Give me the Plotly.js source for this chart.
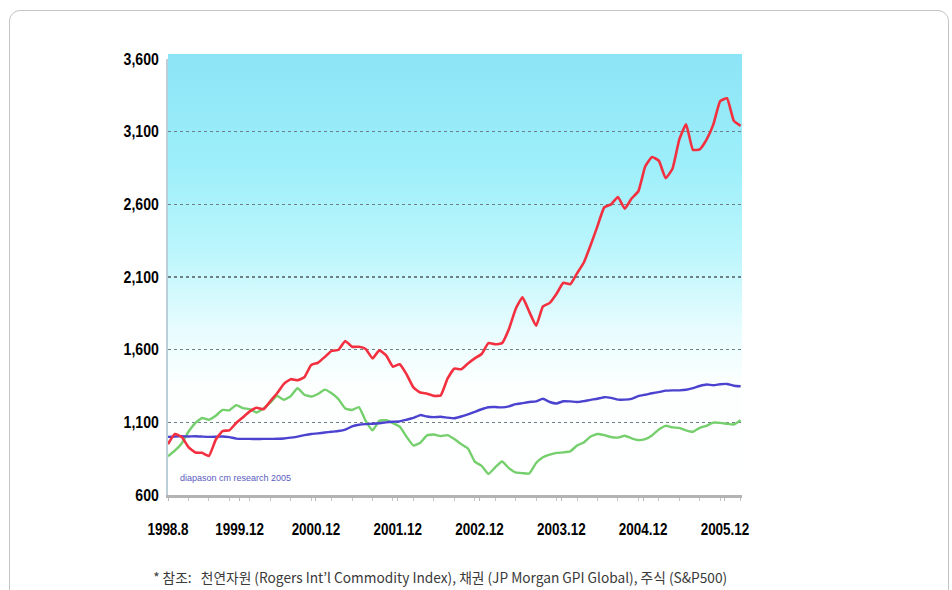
<!DOCTYPE html>
<html>
<head>
<meta charset="utf-8">
<script src="https://cdn.plot.ly/plotly-3.0.1.min.js"></script>
<style>
  html, body { margin: 0; padding: 0; background: #ffffff; }
  #wrap { position: relative; width: 952px; height: 590px; overflow: hidden; }
  #chart { position: absolute; left: 0; top: 0; width: 952px; height: 590px; }
  #frame { position: absolute; left: 9px; top: 10px; width: 940px; height: 620px;
           border: 1px solid #c4c4c4; border-radius: 11px; pointer-events: none; box-sizing: border-box; }
</style>
</head>
<body>
<div id="wrap">
  <div id="chart"></div>
  <div id="frame"></div>
</div>
<script>
// ---- data (monthly readings) ----
const tickLabels = ['1998.8', '1999.12', '2000.12', '2001.12', '2002.12', '2003.12', '2004.12', '2005.12'];
const yTickValues = [600, 1100, 1600, 2100, 2600, 3100, 3600];

// Commodities (Rogers Int'l Commodity Index) - red
const commodity = [950, 1020, 1000, 930, 893, 890, 868, 980, 1040, 1045,
  1095, 1135, 1175, 1200, 1190, 1245, 1300, 1365, 1397, 1390,
  1410, 1495, 1510, 1550, 1592, 1598, 1660, 1620, 1620, 1605,
  1540, 1595, 1560, 1483, 1500, 1430, 1340, 1305, 1297, 1282,
  1285, 1400, 1470, 1465, 1505, 1540, 1570, 1645, 1637, 1645,
  1740, 1880, 1960, 1860, 1765, 1898, 1922, 1985, 2060, 2050,
  2125, 2200, 2320, 2450, 2580, 2600, 2650, 2570, 2640, 2690,
  2860, 2925, 2900, 2780, 2845, 3045, 3150, 2975, 2978, 3045,
  3150, 3310, 3330, 3175, 3140];

// Bonds (JP Morgan GPI Global) - blue
const bonds = [1000, 1003, 1004, 1003, 1004, 1002, 1000, 1001, 1003, 998,
  988, 986, 986, 985, 986, 986, 987, 989, 995, 1002,
  1012, 1020, 1024, 1030, 1035, 1040, 1050, 1072, 1083, 1088,
  1090, 1094, 1100, 1104, 1107, 1118, 1130, 1150, 1140, 1136,
  1138, 1132, 1128, 1140, 1155, 1172, 1190, 1204, 1205, 1203,
  1210, 1225, 1232, 1240, 1244, 1262, 1240, 1230, 1245, 1244,
  1240, 1246, 1255, 1262, 1273, 1268, 1256, 1256, 1262, 1280,
  1290, 1300, 1308, 1318, 1320, 1320, 1324, 1335, 1350, 1360,
  1355, 1362, 1364, 1352, 1348];

// Stocks (S&P500) - green
const stocks = [866, 905, 955, 1035, 1095, 1130, 1118, 1145, 1185, 1183,
  1218, 1198, 1190, 1168, 1195, 1235, 1282, 1255, 1280, 1335,
  1290, 1278, 1295, 1325, 1300, 1260, 1195, 1185, 1205, 1110,
  1045, 1110, 1115, 1095, 1070, 1000, 940, 960, 1010, 1016,
  1005, 1012, 985, 950, 920, 830, 800, 745, 790, 830,
  785, 755, 750, 748, 820, 860, 878, 890, 893, 900,
  940, 962, 1002, 1020, 1012, 998, 995, 1008, 990, 978,
  985, 1010, 1050, 1076, 1065, 1062, 1045, 1035, 1062, 1076,
  1098, 1096, 1090, 1085, 1114];

const caption = '* 참조:   천연자원 (Rogers Int’l Commodity Index), 채권 (JP Morgan GPI Global), 주식 (S&P500)';
const watermark = 'diapason cm research 2005';

// ---- layout helpers ----
const idx = arr => arr.map((_, i) => i);
const tickPositions = [0, 10.5, 21.7, 33.7, 45.7, 57.7, 69.7, 81.7];

const gradSvg = "<svg xmlns='http://www.w3.org/2000/svg' width='10' height='100' viewBox='0 0 10 100' preserveAspectRatio='none'>" +
  "<defs><linearGradient id='g' x1='0' y1='0' x2='0' y2='1'>" +
  "<stop offset='0' stop-color='#8ce4f6'/>" +
  "<stop offset='0.25' stop-color='#9defFA'/>" +
  "<stop offset='0.45' stop-color='#bcf6fc'/>" +
  "<stop offset='0.62' stop-color='#e6fcfe'/>" +
  "<stop offset='0.75' stop-color='#fcfffe'/>" +
  "<stop offset='1' stop-color='#ffffff'/>" +
  "</linearGradient></defs><rect x='0' y='0' width='10' height='100' fill='url(#g)'/></svg>";
const gradUri = 'data:image/svg+xml;charset=utf-8,' + encodeURIComponent(gradSvg);

const tickFontFamily = 'Liberation Sans, Arial, sans-serif';

const traces = [
  { x: idx(stocks), y: stocks, type: 'scatter', mode: 'lines', name: '주식',
    line: { color: '#74cf6c', width: 2.4, shape: 'spline', smoothing: 0.4 }, hoverinfo: 'skip' },
  { x: idx(bonds), y: bonds, type: 'scatter', mode: 'lines', name: '채권',
    line: { color: '#4b43cf', width: 2.4, shape: 'spline', smoothing: 0.4 }, hoverinfo: 'skip' },
  { x: idx(commodity), y: commodity, type: 'scatter', mode: 'lines', name: '천연자원',
    line: { color: '#f2303f', width: 2.6, shape: 'spline', smoothing: 0.4 }, hoverinfo: 'skip' }
];

const layout = {
  width: 952, height: 590,
  margin: { l: 168, r: 210, t: 59, b: 95, pad: 0 },
  paper_bgcolor: 'rgba(0,0,0,0)',
  plot_bgcolor: 'rgba(0,0,0,0)',
  showlegend: false,
  xaxis: {
    range: [0, 84.2],
    tickmode: 'array', tickvals: tickPositions, ticktext: tickLabels,
    showgrid: false, zeroline: false,
    showline: true, linecolor: '#b3b3b3', linewidth: 2.5,
    ticks: 'outside', ticklen: 3, tickwidth: 1, tickcolor: '#b8b8b8',
    ticklabelstandoff: 15,
    tickfont: { family: tickFontFamily, size: 16, color: '#000000', weight: 'bold' },
    minor: { tickmode: 'linear', tick0: 0, dtick: 3, ticks: 'outside', ticklen: 3, tickcolor: '#c4c4c4', showgrid: false }
  },
  yaxis: {
    range: [600, 3600],
    tickmode: 'array', tickvals: yTickValues,
    ticktext: yTickValues.map(v => v.toLocaleString('en-US')),
    showgrid: true, gridcolor: '#6f7f86', gridwidth: 1.5, griddash: 'dot',
    zeroline: false,
    showline: true, linecolor: '#bccfd9', linewidth: 2,
    ticks: '', ticklabelstandoff: 4,
    tickfont: { family: tickFontFamily, size: 16, color: '#000000', weight: 'bold' }
  },
  images: [{
    source: gradUri, xref: 'paper', yref: 'paper',
    x: 0, y: 1.012, sizex: 1, sizey: 1.012,
    xanchor: 'left', yanchor: 'top', sizing: 'stretch', layer: 'below'
  }],
  annotations: [
    { text: caption, xref: 'paper', yref: 'paper', x: 0.474, y: -0.188,
      xanchor: 'center', yanchor: 'middle', showarrow: false,
      font: { family: 'Liberation Sans Narrow, Noto Sans CJK KR, sans-serif', size: 14, color: '#3a3a3a' } },
    { text: watermark, xref: 'paper', yref: 'paper', x: 0.018, y: 0.038,
      xanchor: 'left', yanchor: 'middle', showarrow: false,
      font: { family: tickFontFamily, size: 9, color: '#5a5cc0' } }
  ]
};

Plotly.newPlot('chart', traces, layout, { staticPlot: true, displayModeBar: false }).then(gd => {
  // condense tick label glyphs horizontally (narrow typeface look)
  gd.querySelectorAll('.xtick text').forEach(t => {
    const w = t.getComputedTextLength();
    t.setAttribute('textLength', (w * 0.84).toFixed(1));
    t.setAttribute('lengthAdjust', 'spacingAndGlyphs');
  });
  gd.querySelectorAll('.ytick text').forEach(t => {
    const w = t.getComputedTextLength();
    t.setAttribute('textLength', (w * 0.88).toFixed(1));
    t.setAttribute('lengthAdjust', 'spacingAndGlyphs');
  });
  const cap = gd.querySelector('.annotation text.annotation-text');
  if (cap) {
    cap.setAttribute('textLength', '574');
    cap.setAttribute('lengthAdjust', 'spacingAndGlyphs');
  }
});
</script>
</body>
</html>
